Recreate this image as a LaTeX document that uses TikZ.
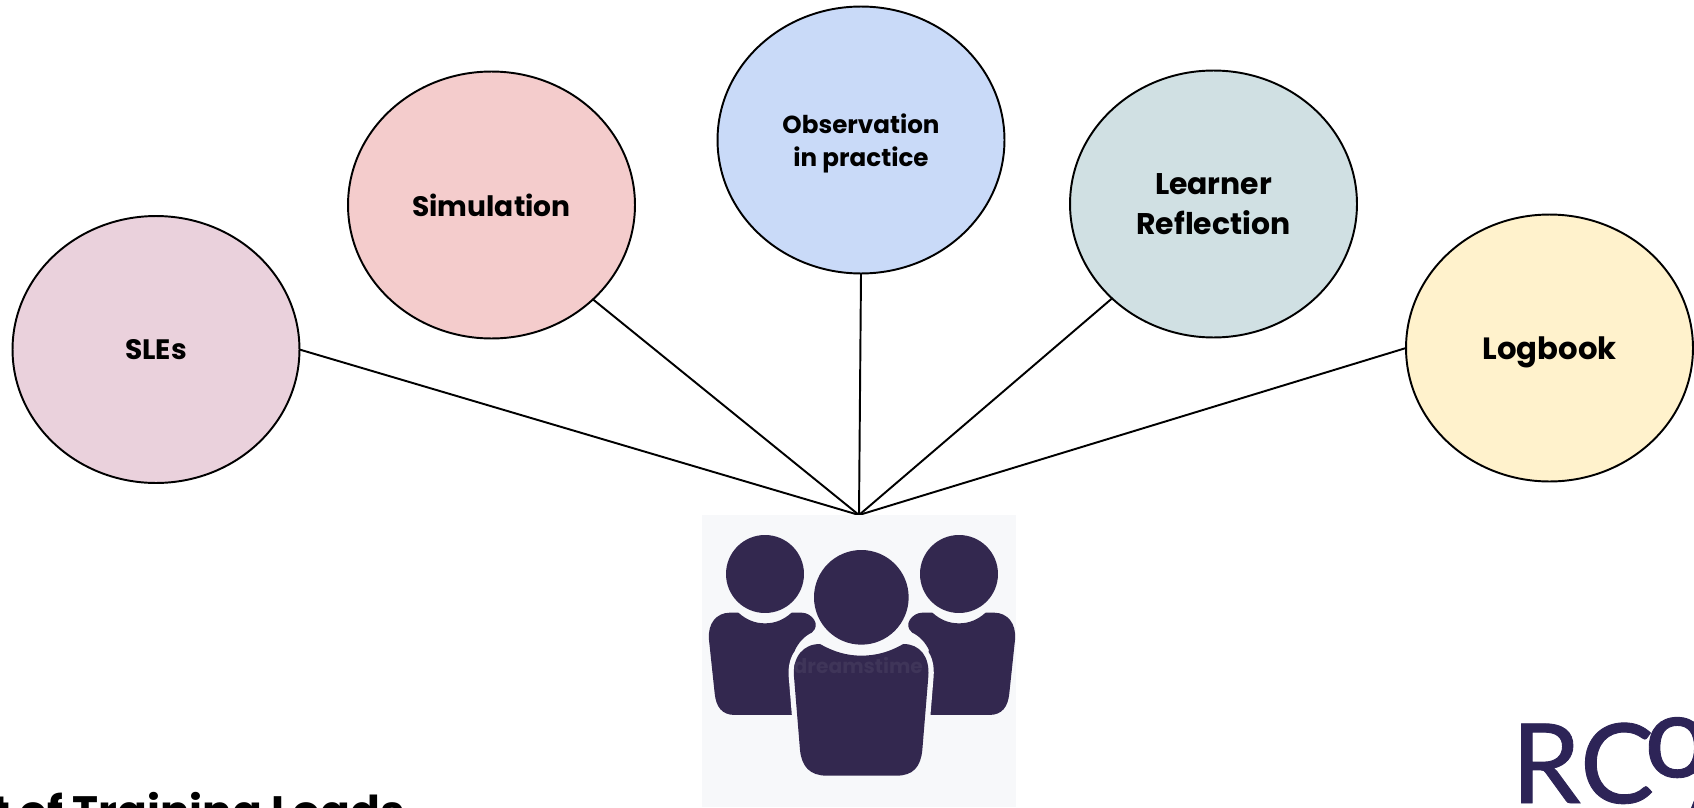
\documentclass[tikz,border=0pt]{standalone}
\usepackage{fontspec}
\setmainfont{Poppins}
\newfontfamily\logofont[FakeBold=0.8]{Lato}
\usetikzlibrary{shapes.geometric}
\definecolor{pinkfill}{HTML}{EAD1DC}
\definecolor{redfill}{HTML}{F4CCCC}
\definecolor{bluefill}{HTML}{C9DAF8}
\definecolor{tealfill}{HTML}{D0E0E3}
\definecolor{yellowfill}{HTML}{FFF2CC}
\definecolor{iconback}{HTML}{F7F8FA}
\definecolor{iconink}{HTML}{33284F}
\definecolor{iconmark}{HTML}{3F3559}
\definecolor{logoink}{HTML}{2D2457}
\newcommand{\sidebody}{(175,368) .. controls (200,390) and (225,400) .. (255,400) .. controls (285,400) and (310,390) .. (335,368) -- (365,368) .. controls (395,368) and (425,405) .. (395,428) .. controls (370,440) and (355,460) .. (345,480) -- (400,675) -- (165,675) .. controls (125,675) and (108,650) .. (104,610) -- (87,450) .. controls (82,400) and (110,368) .. (150,368) -- cycle}

\begin{document}
\begin{tikzpicture}[x=0.02cm,y=-0.02cm]
	\path [use as bounding box] (0,0) rectangle (1694,808);
	\tikzstyle{bubble} = [ellipse, draw=black, line width=1.1pt, minimum width=5.74cm, minimum height=5.34cm, inner sep=0pt, outer sep=0pt, align=center, text depth=0pt, font=\bfseries\fontsize{16}{22}\selectfont]
	\tikzstyle{spoke} = [draw=black, line width=1.1pt]
	\coordinate (H) at (859,515);
	\node[bubble, fill=pinkfill] (SLE) at (156,349.5) {SLEs};
	\node[bubble, fill=redfill] (SIM) at (491.5,205) {Simulation};
	\node[bubble, fill=bluefill, font=\bfseries\fontsize{14}{18.4}\selectfont] (OBS) at (861,140) {Observation\\in practice};
	\node[bubble, fill=tealfill, font=\bfseries\fontsize{17}{22.5}\selectfont] (LRN) at (1213.5,204) {Learner\\Reflection};
	\node[bubble, fill=yellowfill, font=\bfseries\fontsize{17.5}{22}\selectfont] (LOG) at (1549.5,348) {Logbook};
	\draw[spoke] (H) -- (SLE.east);
	\draw[spoke] (H) -- (SIM.south east);
	\draw[spoke] (H) -- (OBS.south);
	\draw[spoke] (H) -- (LRN.south west);
	\draw[spoke] (H) -- (LOG.west);
	\fill[iconback] (702,515) rectangle (1016,807);
	\begin{scope}[shift={(680,490)},x=0.00667cm,y=-0.00667cm]
		\fill[iconink] (255,252) circle[radius=117pt*0.1897];
		\fill[iconink] (837,252) circle[radius=117pt*0.1897];
		\fill[iconink] \sidebody;
		\begin{scope}[shift={(1092,0)},xscale=-1]
			\fill[iconink] \sidebody;
		\end{scope}
		\fill[iconink, preaction={draw=iconback, line width=6pt}] (420,462) .. controls (460,485) and (500,497) .. (544,497) .. controls (590,497) and (630,485) .. (670,462) .. controls (720,462) and (750,500) .. (745,560) -- (727,780) .. controls (722,830) and (700,857) .. (650,857) -- (440,857) .. controls (390,857) and (365,830) .. (360,780) -- (342,560) .. controls (337,500) and (370,462) .. (420,462) -- cycle;
		\fill[iconink] (544,322) circle[radius=142pt*0.1897];
		\node[text=iconmark, font=\bfseries\fontsize{11.5}{14}\selectfont] (MARK) at (535,525) {dreamstime};
	\end{scope}
	\node[anchor=base east, inner sep=0pt, font=\bfseries\fontsize{25}{30}\selectfont] (TITLE) at (405,827) {t of Training Loads};
	\node[anchor=base west, inner sep=0pt, text=logoink, font=\logofont\fontsize{63}{70}\selectfont] (RC) at (1511,803) {RC};
	\node[anchor=base west, inner sep=0pt, text=logoink, font=\logofont\fontsize{66}{70}\selectfont] (SMALLO) at (1644,777) {o};
	\node[anchor=base west, inner sep=0pt, text=logoink, font=\logofont\fontsize{58}{70}\selectfont] (BIGA) at (1680,835) {A};
\end{tikzpicture}
\end{document}
